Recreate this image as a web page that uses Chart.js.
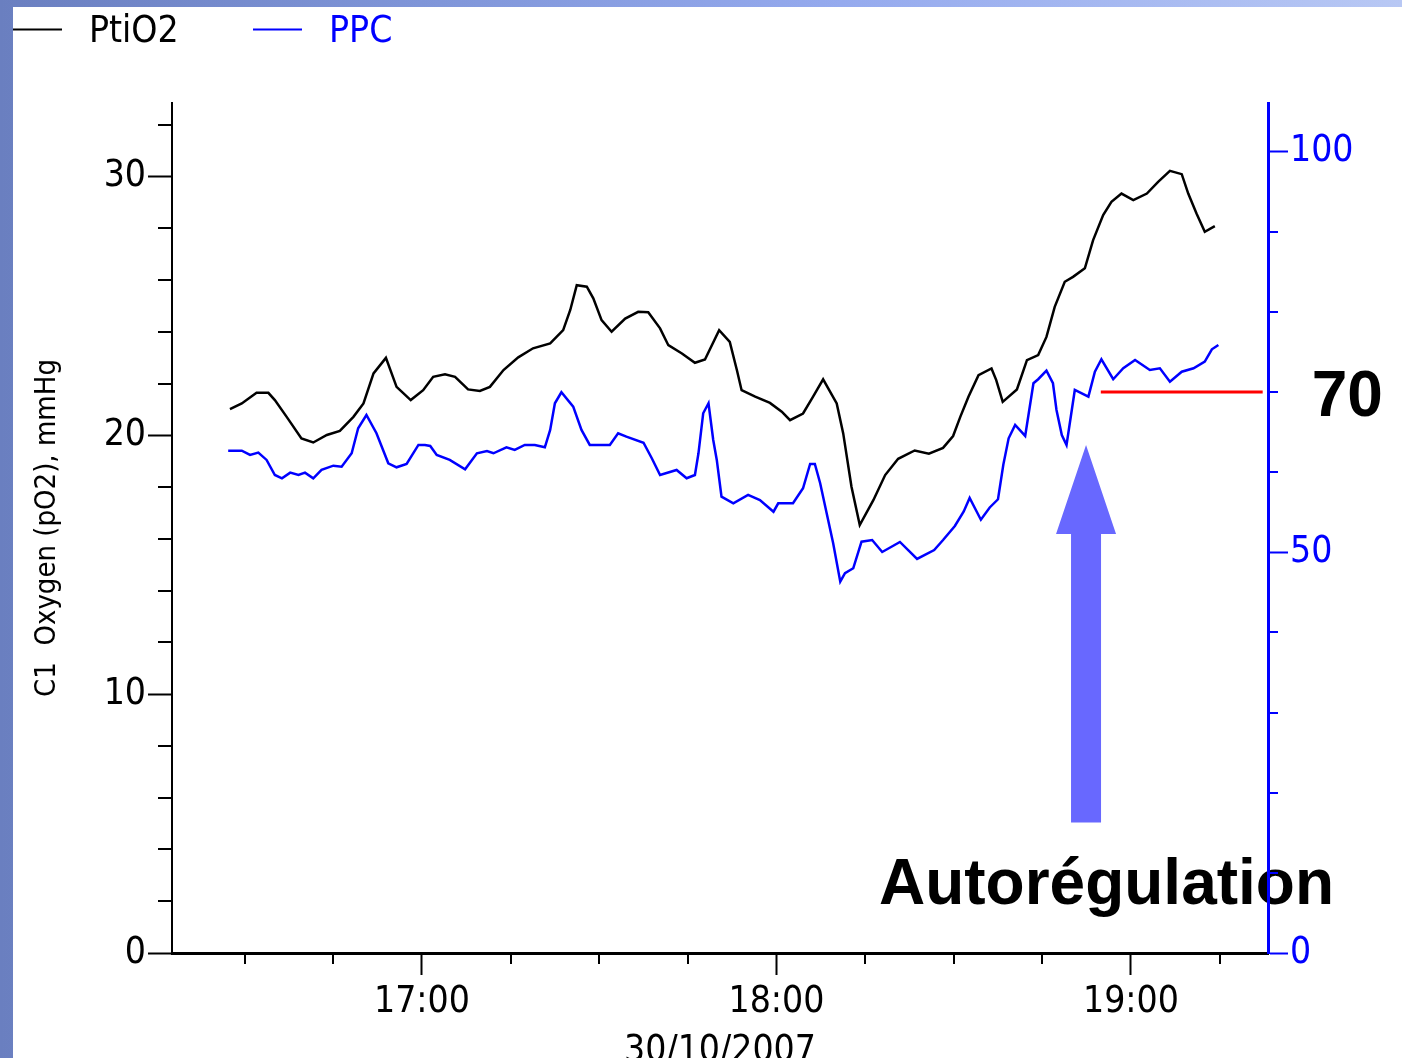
<!DOCTYPE html>
<html><head><meta charset="utf-8">
<script src="https://cdn.jsdelivr.net/npm/chart.js@4.4.0/dist/chart.umd.min.js"></script>
<style>
html,body{margin:0;padding:0;width:1402px;height:1058px;overflow:hidden;}
body{background:linear-gradient(to right,#6a7fc0 0%,#7f95d8 30%,#95aaee 60%,#b8c8f4 100%);position:relative;}
#sheet{position:absolute;left:13px;top:7px;width:1389px;height:1051px;background:#fff;}
#c{position:absolute;left:0;top:0;}
</style></head><body>
<div id="sheet"></div>
<canvas id="c" width="1402" height="1058"></canvas>
<script>
// ---- data (x = minutes after 16:00) ----
const ptiO2Minutes = [27.5,29.5,32.0,34.0,35.1,37.1,39.6,41.6,43.9,46.1,48.4,50.1,51.8,53.9,55.7,58.1,60.2,61.9,63.9,65.6,67.8,69.8,71.5,73.8,76.3,78.8,81.7,83.9,85.1,86.2,87.9,89.0,90.4,92.1,94.4,96.6,98.3,100.3,101.7,104.0,106.2,107.9,110.3,112.1,113.3,114.1,116.4,118.9,120.9,122.3,124.5,126.2,127.9,130.2,131.3,132.7,134.1,136.4,138.4,140.6,143.4,145.8,148.2,149.9,151.1,152.5,154.2,156.4,157.2,158.3,160.7,162.4,164.3,165.7,167.1,168.8,170.2,172.2,173.6,175.3,176.7,178.4,180.4,182.7,184.6,186.6,188.6,189.7,191.1,192.5,194.2];
const ptiO2Values = [21.02,21.24,21.65,21.65,21.37,20.72,19.89,19.73,20.02,20.18,20.72,21.24,22.40,23.00,21.88,21.37,21.75,22.27,22.37,22.27,21.78,21.72,21.88,22.53,23.02,23.37,23.56,24.07,24.85,25.81,25.75,25.30,24.46,24.01,24.52,24.78,24.76,24.14,23.49,23.17,22.81,22.94,24.07,23.62,22.53,21.75,21.50,21.26,20.92,20.59,20.85,21.50,22.17,21.24,20.08,18.02,16.54,17.50,18.47,19.10,19.42,19.30,19.52,19.98,20.71,21.50,22.33,22.59,22.14,21.30,21.78,22.91,23.11,23.81,24.97,25.94,26.13,26.46,27.55,28.52,29.03,29.35,29.10,29.35,29.80,30.23,30.10,29.35,28.58,27.87,28.09];
const ppcMinutes = [27.2,29.5,30.9,32.3,33.7,35.1,36.3,37.7,39.1,40.2,41.6,43.0,45.0,46.4,48.1,49.2,50.6,52.3,54.3,55.7,57.4,59.4,60.5,61.4,62.5,64.7,67.3,69.3,71.0,72.1,74.3,75.7,77.4,79.1,80.8,81.7,82.5,83.6,85.6,87.0,88.4,91.8,93.2,94.6,97.5,98.9,100.3,103.1,104.8,106.2,106.8,107.6,108.5,109.3,109.9,110.7,112.7,115.2,117.2,119.5,120.3,122.8,124.5,125.7,126.5,127.4,128.5,129.6,130.8,131.6,133.0,134.4,136.2,137.9,140.9,143.8,146.7,148.2,150.2,151.7,152.7,154.6,156.1,157.5,158.4,159.3,160.4,162.1,163.5,164.3,165.7,166.8,167.4,168.3,169.1,170.5,172.8,173.9,175.0,177.0,178.7,180.7,183.2,184.9,186.6,188.6,190.6,192.5,193.7,194.8];
const ppcValues = [62.69,62.69,62.15,62.44,61.53,59.65,59.24,59.94,59.65,59.94,59.24,60.28,60.81,60.69,62.36,65.48,67.14,64.86,61.11,60.61,61.03,63.40,63.40,63.27,62.15,61.53,60.36,62.36,62.65,62.36,63.11,62.77,63.40,63.40,63.11,65.27,68.60,69.97,68.18,65.27,63.40,63.40,64.86,64.43,63.68,61.74,59.65,60.28,59.24,59.65,62.36,67.35,68.60,64.02,61.53,56.95,56.12,57.16,56.53,55.07,56.12,56.12,57.99,61.03,61.03,58.62,54.87,51.13,46.34,47.39,48.01,51.33,51.54,50.04,51.29,49.17,50.29,51.54,53.29,55.10,56.78,54.07,55.60,56.62,60.93,64.23,65.89,64.52,71.10,71.60,72.67,71.10,67.77,64.64,63.40,70.26,69.43,72.54,74.09,71.60,72.97,74.00,72.76,72.97,71.30,72.54,72.97,73.79,75.34,75.88];
const thresholdMinutes = [174.9, 202.3];
const thresholdValue = 70;

// ---- axes / ticks ----
const xMin = 17.69, xMax = 203.2;
const hourTicks = [60, 120, 180];
const hourLabels = ['17:00', '18:00', '19:00'];
const xMinorTicks = [30, 45, 75, 90, 105, 135, 150, 165, 195];
const dateLabel = '30/10/2007';
const leftMax = 32.85, rightMax = 106.07;
const leftMajor = [0, 10, 20, 30];
const leftMinor = [2,4,6,8,12,14,16,18,22,24,26,28,32];
const rightMajor = [0, 50, 100];
const rightMinor = [10,20,30,40,60,70,80,90];
const leftTitle = 'C1  Oxygen (pO2), mmHg';
const seriesNames = ['PtiO2', 'PPC'];

// ---- annotations (data units: x minutes, y right-axis units) ----
const arrowX = 172.4, arrowTipY = 63.4, arrowHeadBaseY = 52.3, arrowBottomY = 16.3;
const noteText = 'Autorégulation', noteX = 137.35, noteY = 6.1;
const thresholdText = '70', thresholdTextX = 210.6, thresholdTextY = 67.0;

const NARROW = "'Liberation Sans Narrow','DejaVu Sans Condensed','Arial Narrow',sans-serif";
const BOLD = "'Liberation Sans',Arial,sans-serif";
const TICK_SIZE = 37;

const minorTicksPlugin = {
  id: 'minorTicks',
  afterDraw(chart) {
    const ctx = chart.ctx, x = chart.scales.x, y = chart.scales.y, y2 = chart.scales.y2;
    ctx.save();
    ctx.lineWidth = 2;
    ctx.strokeStyle = '#000';
    ctx.beginPath();
    xMinorTicks.forEach(v => { const p = Math.round(x.getPixelForValue(v)); ctx.moveTo(p, x.top); ctx.lineTo(p, x.top + 11); });
    leftMinor.forEach(v => { const p = Math.round(y.getPixelForValue(v)); ctx.moveTo(y.right - 14, p); ctx.lineTo(y.right, p); });
    ctx.stroke();
    ctx.strokeStyle = '#0000ff';
    ctx.beginPath();
    rightMinor.forEach(v => { const p = Math.round(y2.getPixelForValue(v)); ctx.moveTo(y2.left, p); ctx.lineTo(y2.left + 10, p); });
    ctx.stroke();
    ctx.restore();
  }
};

const annotationPlugin = {
  id: 'annot',
  beforeDraw(chart) {
    const ctx = chart.ctx, x = chart.scales.x, y2 = chart.scales.y2;
    ctx.save();
    const ax = x.getPixelForValue(arrowX);
    const tip = y2.getPixelForValue(arrowTipY), base = y2.getPixelForValue(arrowHeadBaseY), bot = y2.getPixelForValue(arrowBottomY);
    ctx.fillStyle = '#6868ff';
    ctx.beginPath();
    ctx.moveTo(ax, tip);
    ctx.lineTo(ax + 30, base);
    ctx.lineTo(ax + 15, base);
    ctx.lineTo(ax + 15, bot);
    ctx.lineTo(ax - 15, bot);
    ctx.lineTo(ax - 15, base);
    ctx.lineTo(ax - 30, base);
    ctx.closePath();
    ctx.fill();
    ctx.fillStyle = '#000';
    ctx.font = 'bold 64px ' + BOLD;
    ctx.textBaseline = 'alphabetic';
    ctx.textAlign = 'left';
    ctx.fillText(noteText, x.getPixelForValue(noteX), y2.getPixelForValue(noteY));
    ctx.fillText(thresholdText, x.getPixelForValue(thresholdTextX), y2.getPixelForValue(thresholdTextY));
    ctx.restore();
  }
};

const legendPlugin = {
  id: 'topLegend',
  afterDraw(chart) {
    const ctx = chart.ctx;
    ctx.save();
    ctx.font = TICK_SIZE + 'px ' + NARROW;
    ctx.textBaseline = 'alphabetic';
    chart.data.datasets.filter(d => d.inLegend).forEach((d, i) => {
      const x0 = 13 + i * 240;
      ctx.strokeStyle = d.borderColor;
      ctx.lineWidth = 2;
      ctx.beginPath(); ctx.moveTo(x0, 29.5); ctx.lineTo(x0 + 49, 29.5); ctx.stroke();
      ctx.fillStyle = d.borderColor;
      ctx.fillText(d.label, x0 + 76, 42);
    });
    ctx.restore();
  }
};

const toXY = (xs, ys) => xs.map((v, i) => ({x: v, y: ys[i]}));

new Chart(document.getElementById('c'), {
  type: 'line',
  data: {
    datasets: [
      {label: seriesNames[0], data: toXY(ptiO2Minutes, ptiO2Values), yAxisID: 'y', borderColor: '#000000', borderWidth: 2.5, inLegend: true},
      {label: seriesNames[1], data: toXY(ppcMinutes, ppcValues), yAxisID: 'y2', borderColor: '#0000ff', borderWidth: 2.5, inLegend: true},
      {label: 'seuil', data: toXY(thresholdMinutes, [thresholdValue, thresholdValue]), yAxisID: 'y2', borderColor: '#ff0000', borderWidth: 3, inLegend: false}
    ]
  },
  options: {
    responsive: false, animation: false, devicePixelRatio: 1,
    layout: {padding: {top: 103, left: 0, right: 0, bottom: 0}},
    elements: {point: {radius: 0}, line: {tension: 0}},
    plugins: {legend: {display: false}, tooltip: {enabled: false}},
    scales: {
      x: {
        type: 'linear', position: 'bottom', min: xMin, max: xMax,
        afterBuildTicks: s => { s.ticks = hourTicks.map(v => ({value: v})); },
        afterFit: s => { s.height = 105; },
        border: {display: true, color: '#000', width: 3},
        grid: {drawOnChartArea: false, drawTicks: true, tickLength: 22, tickColor: '#000', tickWidth: 2},
        ticks: {callback: v => hourLabels[hourTicks.indexOf(v)], color: '#000', font: {family: NARROW, size: TICK_SIZE}, padding: 5, maxRotation: 0, autoSkip: false},
        title: {display: true, text: dateLabel, color: '#000', font: {family: NARROW, size: TICK_SIZE}, padding: {top: 0, bottom: -16}}
      },
      y: {
        type: 'linear', position: 'left', min: 0, max: leftMax,
        afterBuildTicks: s => { s.ticks = leftMajor.map(v => ({value: v})); },
        afterFit: s => { s.width = 172; },
        border: {display: true, color: '#000', width: 2},
        grid: {drawOnChartArea: false, drawTicks: true, tickLength: 24, tickColor: '#000', tickWidth: 2},
        ticks: {callback: v => String(v), color: '#000', font: {family: NARROW, size: TICK_SIZE}, padding: 2},
        title: {display: true, text: leftTitle, color: '#000', font: {family: NARROW, size: 29}, padding: {top: 30, bottom: 0}}
      },
      y2: {
        type: 'linear', position: 'right', min: 0, max: rightMax,
        afterBuildTicks: s => { s.ticks = rightMajor.map(v => ({value: v})); },
        afterFit: s => { s.width = 134; },
        border: {display: true, color: '#0000ff', width: 3},
        grid: {drawOnChartArea: false, drawTicks: true, tickLength: 20, tickColor: '#0000ff', tickWidth: 2},
        ticks: {callback: v => String(v), color: '#0000ff', font: {family: NARROW, size: TICK_SIZE}, padding: 2}
      }
    }
  },
  plugins: [annotationPlugin, minorTicksPlugin, legendPlugin]
});
</script>
</body></html>
